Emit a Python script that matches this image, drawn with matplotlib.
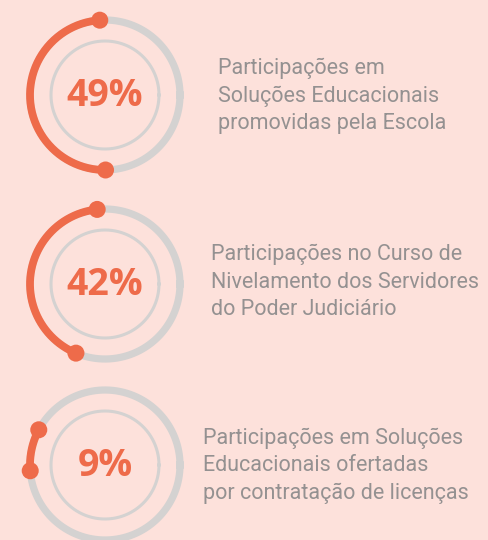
import numpy as np
import matplotlib.pyplot as plt

# values
percents = [49, 42, 9]
labels = [
    "Participações em\nSoluções Educacionais\npromovidas pela Escola",
    "Participações no Curso de\nNivelamento dos Servidores\ndo Poder Judiciário",
    "Participações em Soluções\nEducacionais ofertadas\npor contratação de licenças",
]

bg = '#fde1db'
orange = '#ee6b4a'
ring_gray = '#d4d2d1'
text_gray = '#949191'

centers_y = [95, 284, 465]
start_angles = [94, 96, 152]
label_x = [218, 211, 203]
label_y = [96, 282, 466]

fig = plt.figure(figsize=(4.89, 5.4), dpi=100)
fig.patch.set_facecolor(bg)
ax = fig.add_axes([0, 0, 1, 1])
ax.set_facecolor(bg)
ax.set_xlim(0, 489)
ax.set_ylim(540, 0)
ax.set_aspect('equal')
ax.axis('off')

cx = 105
R = 75
r_in = 54

full = np.linspace(0, 2 * np.pi, 400)
for i, p in enumerate(percents):
    cy = centers_y[i]
    # outer grey ring
    ax.plot(cx + R * np.cos(full), cy - R * np.sin(full), color=ring_gray, lw=5.2, zorder=1)
    # inner thin ring
    ax.plot(cx + r_in * np.cos(full), cy - r_in * np.sin(full), color=ring_gray, lw=2.2, zorder=1)
    # orange progress arc, counterclockwise from the start angle
    th = np.radians(np.linspace(start_angles[i], start_angles[i] + p * 3.6, 200))
    xs = cx + R * np.cos(th)
    ys = cy - R * np.sin(th)
    ax.plot(xs, ys, color=orange, lw=5.6, solid_capstyle='butt', zorder=2)
    ax.scatter([xs[0], xs[-1]], [ys[0], ys[-1]], s=150, color=orange, edgecolors='none', zorder=3)
    ax.text(cx, cy + 1, f"{p}%", ha='center', va='center', color=orange,
            fontsize=27, fontweight='bold', family='Open Sans')
    ax.text(label_x[i], label_y[i], labels[i], ha='left', va='center', color=text_gray,
            fontsize=15.5, fontweight='normal', family='Roboto', linespacing=1.4)

fig.savefig('out.png', dpi=100, facecolor=bg)
